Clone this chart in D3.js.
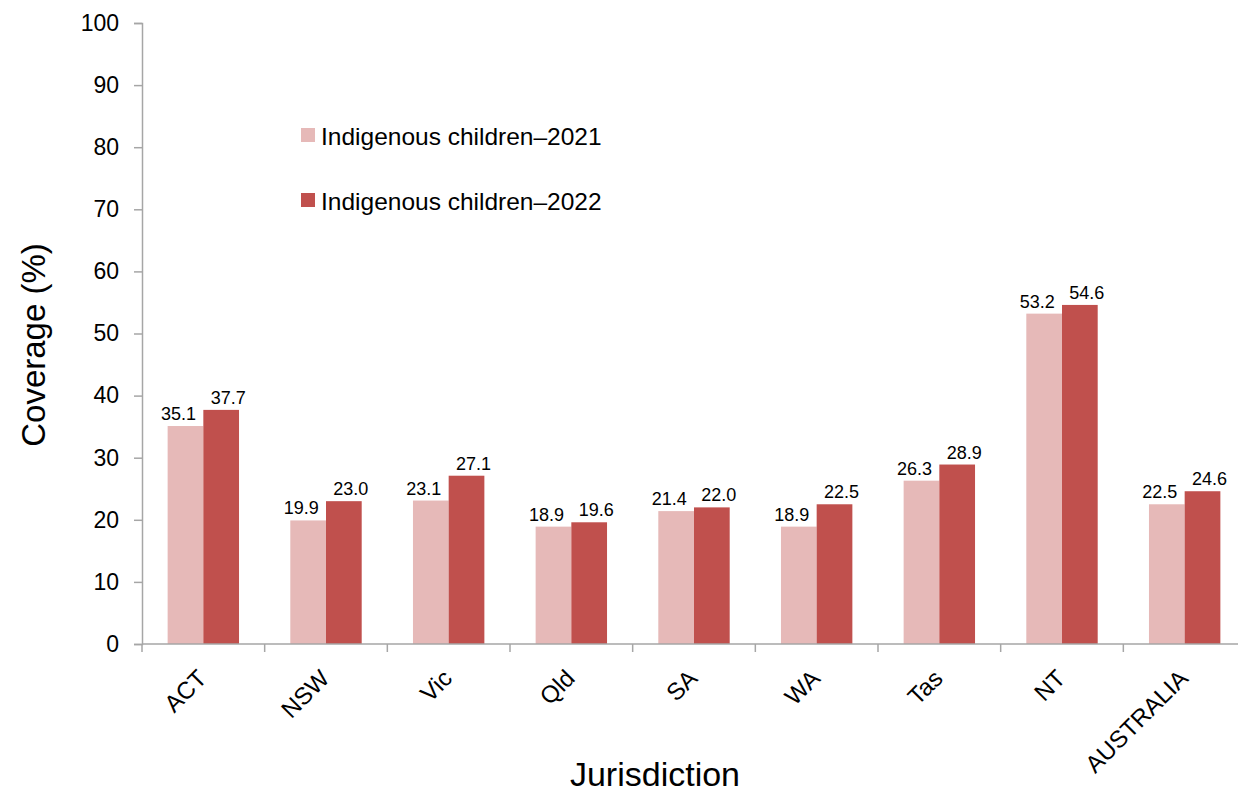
<!DOCTYPE html>
<html><head><meta charset="utf-8">
<script src="https://cdn.jsdelivr.net/npm/d3@7"></script>
<style>body{margin:0;background:#fff}svg{display:block;font-family:Arial,"Liberation Sans",sans-serif}</style>
</head><body><svg id="c" width="1238" height="792"></svg>
<script>
const categories = ["ACT","NSW","Vic","Qld","SA","WA","Tas","NT","AUSTRALIA"];
const values2021 = [35.1,19.9,23.1,18.9,21.4,18.9,26.3,53.2,22.5];
const values2022 = [37.7,23.0,27.1,19.6,22.0,22.5,28.9,54.6,24.6];
const seriesNames = ["Indigenous children\u20132021","Indigenous children\u20132022"];
const yTicks = [0,10,20,30,40,50,60,70,80,90,100];

const colors = ["#e6b9b8","#c0504d"];
const svg = d3.select("#c");
const x0 = 142, x1 = 1246, yTop = 23, yBot = 644;
const x = d3.scaleBand().domain(categories).range([x0,x1]).paddingInner(0).paddingOuter(0);
const y = d3.scaleLinear().domain([0,100]).range([yBot,yTop]);
const barW = 35.7;

// y axis
const yAxis = svg.append("g").attr("transform",`translate(${x0},0)`)
  .call(d3.axisLeft(y).tickValues(yTicks).tickSize(8).tickPadding(15));
yAxis.select(".domain").attr("stroke","#a6a6a6").attr("stroke-width",1.5);
yAxis.selectAll(".tick line").attr("stroke","#a6a6a6").attr("stroke-width",1.5);
yAxis.selectAll(".tick text").attr("font-size",23).attr("fill","#000").attr("font-family","Arial, Liberation Sans, sans-serif");

// bars
const series = [values2021, values2022];
series.forEach((vals,si)=>{
  svg.append("g").selectAll("rect").data(categories).join("rect")
    .attr("x",d=>x(d)+x.bandwidth()/2 - barW + si*barW)
    .attr("y",(d,i)=>y(vals[i]))
    .attr("width",barW)
    .attr("height",(d,i)=>y(0)-y(vals[i]))
    .attr("fill",colors[si]);
  svg.append("g").selectAll("text").data(categories).join("text")
    .attr("x",d=>x(d)+x.bandwidth()/2 - barW/2 + si*barW + (si===0?-7:7))
    .attr("y",(d,i)=>y(vals[i])-6)
    .attr("text-anchor","middle")
    .attr("font-size",18)
    .attr("fill","#000")
    .text((d,i)=>vals[i].toFixed(1));
});

// x axis
const xAxis = svg.append("g").attr("transform",`translate(0,${yBot})`);
xAxis.append("line").attr("x1",x0).attr("x2",x1).attr("y1",0).attr("y2",0)
  .attr("stroke","#a6a6a6").attr("stroke-width",1.5);
xAxis.selectAll("line.t").data(categories.concat(["_end"])).join("line").attr("class","t")
  .attr("x1",(d,i)=>x0+i*x.bandwidth()).attr("x2",(d,i)=>x0+i*x.bandwidth())
  .attr("y1",0).attr("y2",8).attr("stroke","#a6a6a6").attr("stroke-width",1.5);
xAxis.selectAll("text").data(categories).join("text")
  .attr("transform",d=>`translate(${x(d)+x.bandwidth()/2-7},${24}) rotate(-45)`)
  .attr("text-anchor","end")
  .attr("dy","0.7em")
  .attr("font-size",24)
  .attr("fill","#000")
  .text(d=>d);

// axis titles
svg.append("text").attr("transform",`translate(45,345) rotate(-90)`)
  .attr("text-anchor","middle").attr("font-size",33).attr("fill","#000").text("Coverage (%)");
svg.append("text").attr("x",655).attr("y",786)
  .attr("text-anchor","middle").attr("font-size",34).attr("fill","#000").text("Jurisdiction");

// legend
const leg = svg.append("g");
seriesNames.forEach((n,i)=>{
  const ly = 145 + i*65;
  leg.append("rect").attr("x",301).attr("y",ly-17).attr("width",14).attr("height",14).attr("fill",colors[i]);
  leg.append("text").attr("x",321).attr("y",ly).attr("font-size",24.5).attr("fill","#000").text(n);
});
</script></body></html>
